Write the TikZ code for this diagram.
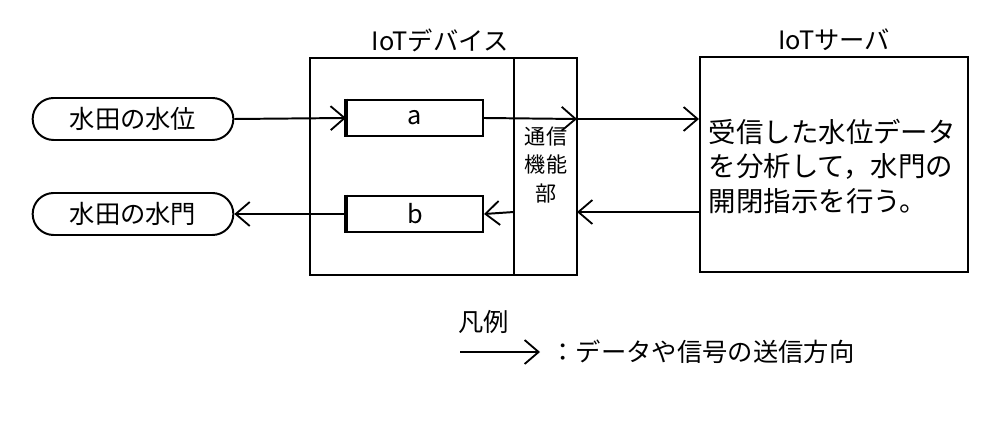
\documentclass[tikz,border=0pt]{standalone}
\usepackage{fontspec}
\setmainfont{Noto Sans CJK JP}
\usetikzlibrary{arrows.meta}
\usetikzlibrary{shapes}

\begin{document}
\begin{tikzpicture}[x=0.025cm, y=-0.025cm, >={Straight Barb[length=3.5mm, width=6mm, line width=1.3pt]}, line width=1.4pt,
                    every node/.style={font=\fontsize{18}{22}\selectfont},
                    field/.style={draw, rounded rectangle, minimum width=5.25cm, minimum height=1.05cm},
                    unit/.style={draw, minimum width=3.4cm, minimum height=0.92cm}]
\useasboundingbox (0,0) rectangle (1003,425);

\node[field] (level) at (133,119) {水田の水位};
\node[field] (gate) at (133,214) {水田の水門};

\draw (310,58) rectangle (577,275);
\draw (514,58) -- (514,275);
\node at (440,40) {IoTデバイス};
\node[unit] (a) at (415,118) {a};
\node[unit] (b) at (415,214) {b};
\draw[line width=2.6pt] (a.north west) -- (a.south west);
\draw[line width=2.6pt] (b.north west) -- (b.south west);
\node[align=center, font=\fontsize{15}{20}\selectfont, inner sep=0pt] (comm) at (546,165) {通信\\機能\\部};
\coordinate (in) at (577,119);
\coordinate (out) at (577,212);

\node (server) [draw, minimum width=6.7cm, minimum height=5.375cm] at (834,164.5) {};
\node at (834,40) {IoTサーバ};
\node[anchor=north west, align=left, font=\fontsize{19.5}{24.5}\selectfont, inner sep=0pt] at (708,118)
  {受信した水位データ\\を分析して，水門の\\開閉指示を行う。};

\draw[->] (level.east) -- (a.west);
\draw[->] (a.east) -- (in);
\draw[->] (in) -- (server.west |- in);
\draw[->] (server.west |- out) -- (out);
\draw[->] (514,212) -- (b.east);
\draw[->] (b.west) -- (gate.east);

% legend
\node[anchor=west] (legend) at (453,322) {凡例};
\coordinate (l1) at (460,352);
\coordinate (l2) at (540,352);
\draw[->] (l1) -- (l2);
\node[anchor=west] (ldesc) at (545,352) {：データや信号の送信方向};
\end{tikzpicture}
\end{document}
